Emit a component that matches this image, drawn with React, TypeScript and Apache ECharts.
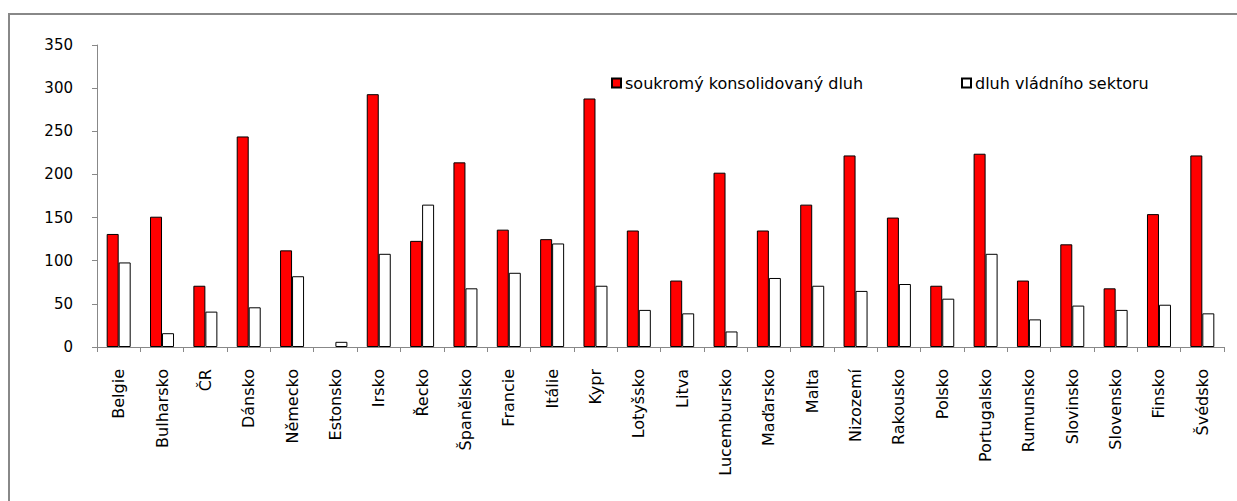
import React, { useEffect, useRef } from "react";
import * as echarts from "echarts";

const categories = [
  "Belgie", "Bulharsko", "ČR", "Dánsko", "Německo", "Estonsko", "Irsko", "Řecko",
  "Španělsko", "Francie", "Itálie", "Kypr", "Lotyšsko", "Litva", "Lucembursko",
  "Maďarsko", "Malta", "Nizozemí", "Rakousko", "Polsko", "Portugalsko", "Rumunsko",
  "Slovinsko", "Slovensko", "Finsko", "Švédsko",
];

const privateDebt = [
  131, 151, 71, 244, 112, null, 293, 123, 214, 136, 125, 288, 135, 77, 202, 135,
  165, 222, 150, 71, 224, 77, 119, 68, 154, 222,
];

const govDebt = [
  98, 16, 41, 46, 82, 6, 108, 165, 68, 86, 120, 71, 43, 39, 18, 80, 71, 65, 73,
  56, 108, 32, 48, 43, 49, 39,
];

const yTicks = { min: 0, max: 350, interval: 50 };
const seriesNames = ["soukromý konsolidovaný dluh", "dluh vládního sektoru"];

export default function App() {
  const ref = useRef<HTMLDivElement>(null);
  useEffect(() => {
    document.body.style.margin = "0";
    if (!ref.current) return;
    const chart = echarts.init(ref.current, undefined, { renderer: "svg" });
    const font = "'DejaVu Sans', sans-serif";
    const legendBase = {
      top: 70,
      itemWidth: 9,
      itemHeight: 9,
      icon: "rect",
      textStyle: { fontSize: 16, color: "#000", fontFamily: font, padding: [0, 0, 0, -1] },
    };
    chart.setOption({
      animation: false,
      backgroundColor: "#fff",
      textStyle: { fontFamily: font },
      graphic: [
        {
          type: "rect",
          shape: { x: 9, y: 14, width: 1240, height: 500 },
          style: { fill: "none", stroke: "#888", lineWidth: 2 },
          silent: true,
        },
      ],
      grid: { left: 97, right: 13, top: 45, bottom: 154, containLabel: false },
      legend: [
        { ...legendBase, data: [seriesNames[0]], left: 606 },
        { ...legendBase, data: [seriesNames[1]], left: 956 },
      ],
      xAxis: {
        type: "category",
        data: categories,
        axisLine: { lineStyle: { color: "#888", width: 1 } },
        axisTick: { show: true, length: 5, lineStyle: { color: "#888" } },
        axisLabel: {
          rotate: 90,
          interval: 0,
          margin: 22,
          fontSize: 16,
          color: "#000",
          fontFamily: font,
        },
      },
      yAxis: {
        type: "value",
        min: yTicks.min,
        max: yTicks.max,
        interval: yTicks.interval,
        splitLine: { show: false },
        axisLine: { show: true, lineStyle: { color: "#888", width: 1 } },
        axisTick: { show: true, length: 5, lineStyle: { color: "#888" } },
        axisLabel: { fontSize: 15, color: "#000", margin: 24, fontFamily: font },
      },
      series: [
        {
          name: seriesNames[0],
          type: "bar",
          data: privateDebt,
          barWidth: 12,
          barGap: "0%",
          itemStyle: { color: "#ff0000", borderColor: "#000", borderWidth: 1 },
        },
        {
          name: seriesNames[1],
          type: "bar",
          data: govDebt,
          barWidth: 12,
          barGap: "0%",
          itemStyle: { color: "#fff", borderColor: "#000", borderWidth: 1 },
        },
      ],
    });
    return () => chart.dispose();
  }, []);
  return <div ref={ref} style={{ width: 1237, height: 501 }} />;
}
